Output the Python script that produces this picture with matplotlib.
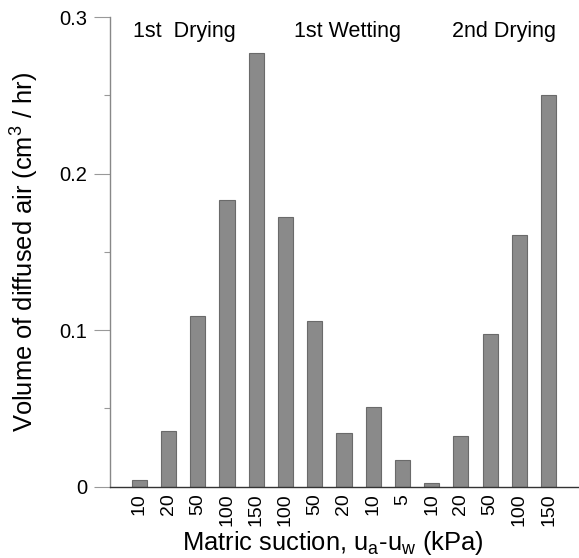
import matplotlib
matplotlib.use("Agg")
import matplotlib.pyplot as plt
from matplotlib.ticker import MultipleLocator

plt.rcParams['font.family'] = ['Liberation Sans', 'DejaVu Sans']

suction_labels = ['10', '20', '50', '100', '150',
                  '100', '50', '20', '10', '5',
                  '10', '20', '50', '100', '150']
volumes = [0.0043, 0.0356, 0.1088, 0.183, 0.2767,
           0.172, 0.106, 0.034, 0.0507, 0.0169,
           0.0022, 0.0324, 0.0975, 0.161, 0.250]
stages = ['1st  Drying', '1st Wetting', '2nd Drying']

fig = plt.figure(figsize=(5.79, 5.58), dpi=100)
ax = fig.add_axes([0.19, 0.1278, 0.81, 0.8417])

x = list(range(len(volumes)))
ax.bar(x, volumes, width=0.52, color='#8a8a8a', edgecolor='#6a6a6a', linewidth=0.8)

ax.set_xlim(-1, 15.04)
ax.set_ylim(0, 0.3)
ax.set_xticks(x)
ax.set_xticklabels(suction_labels, rotation=90, fontsize=14)
ax.tick_params(axis='x', length=0, pad=5)
ax.yaxis.set_minor_locator(MultipleLocator(0.05))
ax.set_yticks([0, 0.1, 0.2, 0.3])
ax.set_yticklabels(['0', '0.1', '0.2', '0.3'], fontsize=14.5)
ax.tick_params(axis='y', which='major', length=11.5, color='#999999', width=0.8, pad=5)
ax.tick_params(axis='y', which='minor', length=4.5, color='#999999', width=0.8)

for s in ['top', 'right']:
    ax.spines[s].set_visible(False)
ax.spines['left'].set_color('#888888')
ax.spines['left'].set_linewidth(1.0)
ax.spines['bottom'].set_color('#333333')
ax.spines['bottom'].set_linewidth(1.0)

ax.set_xlabel('Matric suction, u$_{\\mathregular{a}}$-u$_{\\mathregular{w}}$ (kPa)', fontsize=18.4, labelpad=2)
ax.xaxis.set_label_coords(0.476, -0.09)
ax.set_ylabel('Volume of diffused air (cm$^{\\mathregular{3}}$ / hr)', fontsize=18.4, labelpad=14)

stage_x = [-0.2, 5.3, 10.7]
for sx, st in zip(stage_x, stages):
    ax.text(sx, 0.287, st, fontsize=15.5, ha='left', va='baseline')

fig.savefig('out.png', dpi=100)
